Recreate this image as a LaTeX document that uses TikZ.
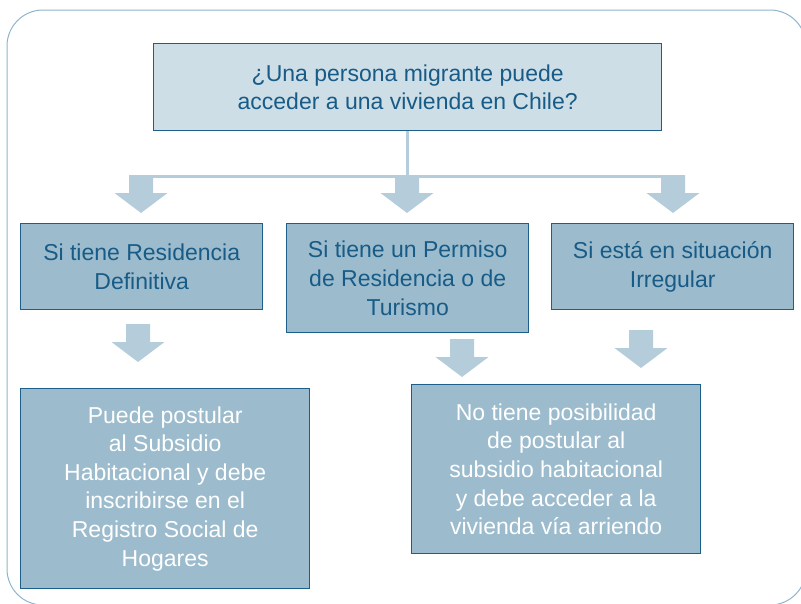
\documentclass[tikz,border=0pt]{standalone}
\usepackage{fontspec}
\setmainfont{Liberation Sans}
\usetikzlibrary{positioning,calc}
\definecolor{frameblue}{HTML}{8FB4CD}
\definecolor{lineblue}{HTML}{1D5F8A}
\definecolor{textblue}{HTML}{175B86}
\definecolor{paleblue}{HTML}{CDDEE7}
\definecolor{midblue}{HTML}{9CBCCE}
\definecolor{arrowblue}{HTML}{B5CDDA}

\tikzset{
    downarr/.pic={
        \fill[arrowblue] (-12,0) -- (12,0) -- (12,18) -- (26.5,18) -- (0,38)
            -- (-26.5,18) -- (-12,18) -- cycle;
    }
}

\begin{document}
\begin{tikzpicture}[
    x=1pt,y=-1pt,
    box/.style={draw=lineblue,line width=1.4pt,align=center,inner sep=0pt,anchor=north west,
        font=\fontsize{23}{28.6}\selectfont},
    qbox/.style={box,fill=paleblue,text=textblue},
    casebox/.style={box,fill=midblue,text=textblue},
    resbox/.style={box,fill=midblue,text=white},
    link/.style={arrowblue,line width=3pt}
]
\useasboundingbox (0,0) rectangle (801,603);
\draw[frameblue,line width=1pt,rounded corners=36pt] (7,10) rectangle (806,605);

\node[qbox,minimum width=508pt,minimum height=87pt] (q) at (153,43)
    {¿Una persona migrante puede\\acceder a una vivienda en Chile?};

\node[casebox,minimum width=242pt,minimum height=86pt] (def) at (20,223)
    {Si tiene Residencia\\Definitiva};
\node[casebox,minimum width=242pt,minimum height=109pt] (perm) at (286,223)
    {Si tiene un Permiso\\de Residencia o de\\Turismo};
\node[casebox,minimum width=242pt,minimum height=86pt] (irr) at (551,223)
    {Si está en situación\\Irregular};

\node[resbox,minimum width=289pt,minimum height=200pt] (yes) at (20,388)
    {Puede postular\\al Subsidio\\Habitacional y debe\\inscribirse en el\\Registro Social de\\Hogares};
\node[resbox,minimum width=289pt,minimum height=169pt] (no) at (411,384)
    {No tiene posibilidad\\de postular al\\subsidio habitacional\\y debe acceder a la\\vivienda vía arriendo};

% split line
\coordinate (jl) at (141,176.5);
\coordinate (jr) at (673,176.5);
\coordinate (jm) at (q.south |- jl);
\draw[link] (q.south) -- (jm);
\draw[link] (jl) -- (jr);

\pic at (141,175) {downarr};
\pic at (407,175) {downarr};
\pic at (673,175) {downarr};

\pic at (138,324) {downarr};
\pic at (462,339) {downarr};
\pic at (641,330) {downarr};
\end{tikzpicture}
\end{document}
